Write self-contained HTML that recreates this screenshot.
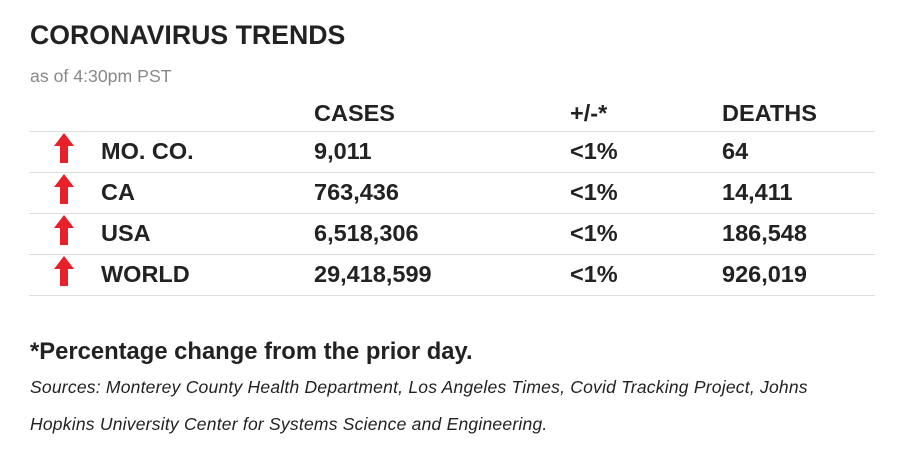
<!DOCTYPE html>
<html><head><meta charset="utf-8"><style>
body{margin:0;width:908px;height:463px;background:#fff;font-family:"Liberation Sans",Arial,sans-serif;color:#222;position:relative;overflow:hidden}
.t{position:absolute;white-space:nowrap;line-height:1}
.b{font-weight:bold;font-size:23.5px}
.line{position:absolute;left:29px;width:846px;height:1px;background:#ddd}
.arrow{position:absolute;left:54px;width:20px;height:30px}
</style></head><body>
<div class="t" style="left:30px;top:22px;font-size:26.7px;font-weight:bold">CORONAVIRUS TRENDS</div>
<div class="t" style="left:30px;top:68px;font-size:17.7px;color:#888">as of 4:30pm PST</div>
<div class="t b" style="left:314px;top:102px">CASES</div>
<div class="t b" style="left:570px;top:102px">+/-*</div>
<div class="t b" style="left:722px;top:102px">DEATHS</div>
<div class="line" style="top:131px"></div>
<div class="line" style="top:172px"></div>
<div class="line" style="top:213px"></div>
<div class="line" style="top:254px"></div>
<div class="line" style="top:295px"></div>
<div id="rows"></div>
<div class="t" style="left:30px;top:340px;font-size:23.8px;font-weight:bold">*Percentage change from the prior day.</div>
<div class="t" style="left:30px;top:379px;font-size:17.5px;letter-spacing:0.22px;font-style:italic">Sources: Monterey County Health Department, Los Angeles Times, Covid Tracking Project, Johns</div>
<div class="t" style="left:30px;top:416px;font-size:17.5px;letter-spacing:0.22px;font-style:italic">Hopkins University Center for Systems Science and Engineering.</div>
<script>
const regions=["MO. CO.","CA","USA","WORLD"];
const cases=["9,011","763,436","6,518,306","29,418,599"];
const changes=["<1%","<1%","<1%","<1%"];
const deaths=["64","14,411","186,548","926,019"];
const host=document.getElementById('rows');
regions.forEach((r,i)=>{
  const top=140+i*41;
  const a=document.createElementNS('http://www.w3.org/2000/svg','svg');
  a.setAttribute('class','arrow');
  
  
  a.setAttribute('viewBox','0 0 20 30');
  a.style.top=(top-7)+'px';
  a.innerHTML='<polygon points="10,0 20,13 14,13 14,30 6,30 6,13 0,13" fill="#e8202a"/>';
  host.appendChild(a);
  const cols=[[101,r,'region-name'],[314,cases[i],'cases-value'],[570,changes[i],'change-value'],[722,deaths[i],'deaths-value']];
  cols.forEach(c=>{
    const d=document.createElement('div');
    d.className='t b';
    
    
    d.style.left=c[0]+'px';d.style.top=top+'px';
    d.textContent=c[1];
    host.appendChild(d);
  });
});
</script>
</body></html>
